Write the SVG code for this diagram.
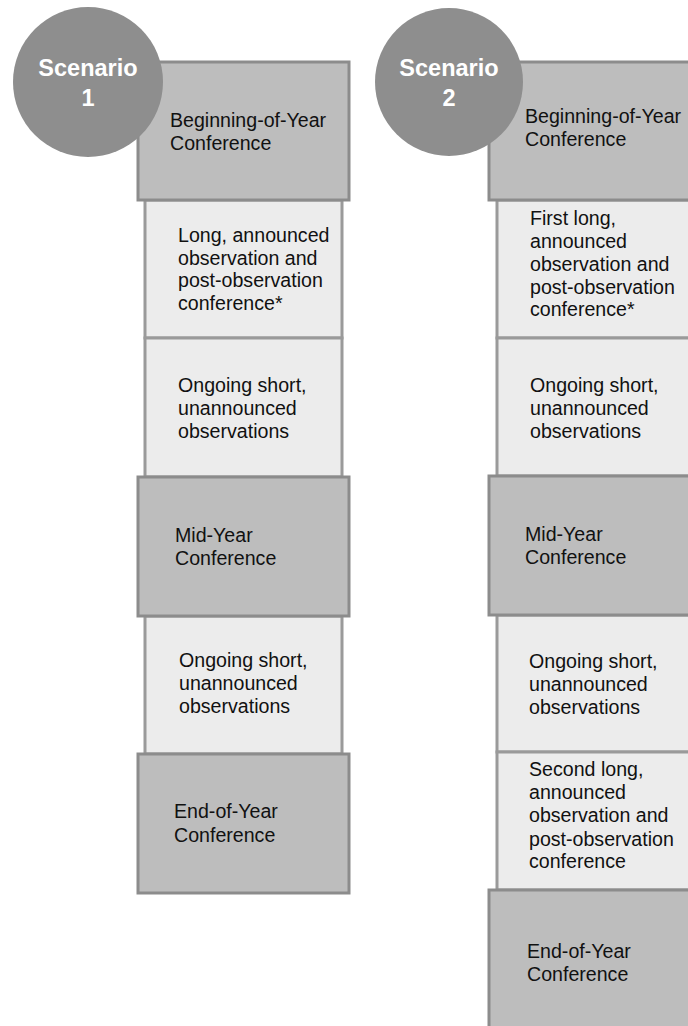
<svg xmlns="http://www.w3.org/2000/svg" width="688" height="1026" viewBox="0 0 688 1026">
<style>
.dark{fill:#bdbdbd;stroke:#8c8c8c;stroke-width:3}
.light{fill:#ececec;stroke:#9a9a9a;stroke-width:3}
.circ{fill:#8e8e8e}
.t{font-family:"Liberation Sans",Arial,sans-serif;font-size:19.6px;fill:#111}
.h{font-family:"Liberation Sans",Arial,sans-serif;font-size:23.5px;font-weight:bold;fill:#ffffff;text-anchor:middle}
</style>
<rect width="688" height="1026" fill="#ffffff"/>
<g id="connectors"/>
<!-- Scenario 1 -->
<g id="s1-long">
<rect class="light" x="145" y="200" width="197" height="138"/>
<text class="t" x="178" y="242">Long, announced</text>
<text class="t" x="178" y="265">observation and</text>
<text class="t" x="178" y="287">post-observation</text>
<text class="t" x="178" y="310">conference*</text>
</g>
<g id="s1-ongoing1">
<rect class="light" x="145" y="338" width="197" height="139"/>
<text class="t" x="178" y="392">Ongoing short,</text>
<text class="t" x="178" y="415">unannounced</text>
<text class="t" x="178" y="438">observations</text>
</g>
<g id="s1-ongoing2">
<rect class="light" x="145" y="616" width="197" height="138"/>
<text class="t" x="179" y="667">Ongoing short,</text>
<text class="t" x="179" y="690">unannounced</text>
<text class="t" x="179" y="713">observations</text>
</g>
<g id="s1-boy">
<rect class="dark" x="138" y="62" width="211" height="138"/>
<text class="t" x="170" y="127">Beginning-of-Year</text>
<text class="t" x="170" y="150">Conference</text>
</g>
<g id="s1-mid">
<rect class="dark" x="138" y="477" width="211" height="139"/>
<text class="t" x="175" y="542">Mid-Year</text>
<text class="t" x="175" y="565">Conference</text>
</g>
<g id="s1-eoy">
<rect class="dark" x="138" y="754" width="211" height="139"/>
<text class="t" x="174" y="818">End-of-Year</text>
<text class="t" x="174" y="842">Conference</text>
</g>
<g id="s1-circle">
<circle class="circ" cx="88" cy="82" r="75"/>
<text class="h" x="88" y="76">Scenario</text>
<text class="h" x="88" y="106">1</text>
</g>
<!-- Scenario 2 -->
<g id="s2-first">
<rect class="light" x="497" y="200" width="200" height="138"/>
<text class="t" x="530" y="225">First long,</text>
<text class="t" x="530" y="248">announced</text>
<text class="t" x="530" y="271">observation and</text>
<text class="t" x="530" y="294">post-observation</text>
<text class="t" x="530" y="316">conference*</text>
</g>
<g id="s2-ongoing1">
<rect class="light" x="497" y="338" width="200" height="138"/>
<text class="t" x="530" y="392">Ongoing short,</text>
<text class="t" x="530" y="415">unannounced</text>
<text class="t" x="530" y="438">observations</text>
</g>
<g id="s2-ongoing2">
<rect class="light" x="497" y="615" width="200" height="137"/>
<text class="t" x="529" y="668">Ongoing short,</text>
<text class="t" x="529" y="691">unannounced</text>
<text class="t" x="529" y="714">observations</text>
</g>
<g id="s2-second">
<rect class="light" x="497" y="752" width="200" height="138"/>
<text class="t" x="529" y="776">Second long,</text>
<text class="t" x="529" y="799">announced</text>
<text class="t" x="529" y="822">observation and</text>
<text class="t" x="529" y="846">post-observation</text>
<text class="t" x="529" y="868">conference</text>
</g>
<g id="s2-boy">
<rect class="dark" x="489" y="62" width="210" height="138"/>
<text class="t" x="525" y="123">Beginning-of-Year</text>
<text class="t" x="525" y="146">Conference</text>
</g>
<g id="s2-mid">
<rect class="dark" x="489" y="476" width="210" height="139"/>
<text class="t" x="525" y="541">Mid-Year</text>
<text class="t" x="525" y="564">Conference</text>
</g>
<g id="s2-eoy">
<rect class="dark" x="489" y="890" width="210" height="145"/>
<text class="t" x="527" y="958">End-of-Year</text>
<text class="t" x="527" y="981">Conference</text>
</g>
<g id="s2-circle">
<circle class="circ" cx="449" cy="82" r="74"/>
<text class="h" x="449" y="76">Scenario</text>
<text class="h" x="449" y="106">2</text>
</g>
</svg>
